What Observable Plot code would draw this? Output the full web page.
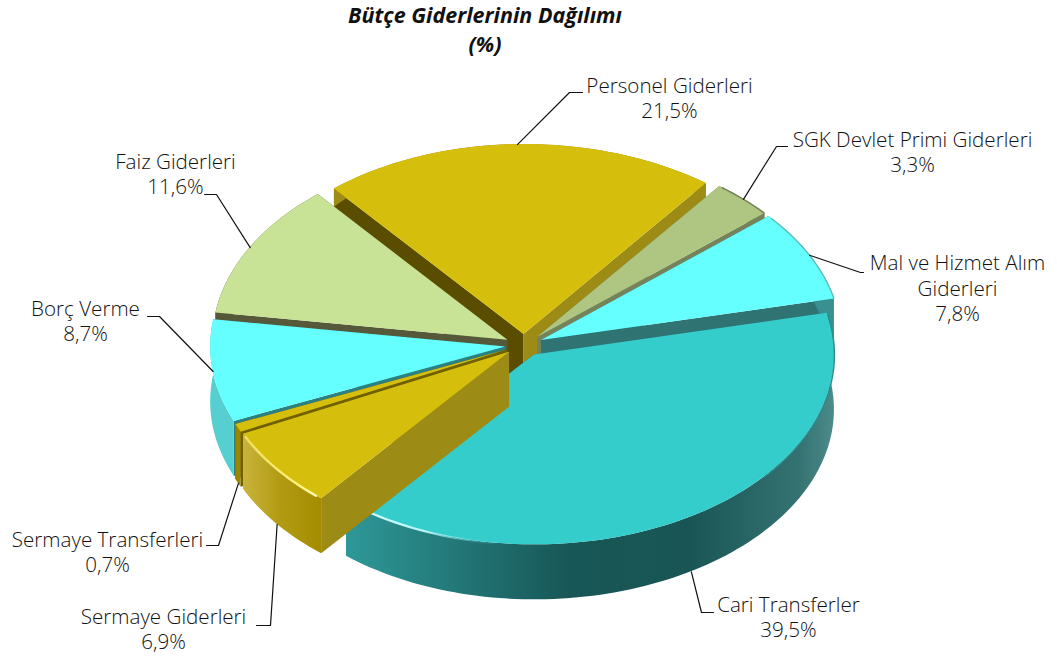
<!DOCTYPE html>
<html lang="tr">
<head>
<meta charset="utf-8">
<script src="https://cdn.jsdelivr.net/npm/d3@7"></script>
<script src="https://cdn.jsdelivr.net/npm/@observablehq/plot@0.6"></script>
<style>
html,body{margin:0;padding:0;background:#fff}
#title{height:58px;width:970px;text-align:center;font:italic 700 21.5px/29px "Open Sans",sans-serif;color:#111;box-sizing:border-box;padding-top:0}
#chart svg{display:block}
</style>
</head>
<body>
<div id="title">Bütçe Giderlerinin Dağılımı<br>(%)</div>
<div id="chart"></div>
<script>
// ---- data ----
const categories = ["Personel Giderleri","SGK Devlet Primi Giderleri","Mal ve Hizmet Alım\nGiderleri","Cari Transferler","Sermaye Giderleri","Sermaye Transferleri","Borç Verme","Faiz Giderleri"];
const shares = [21.5,3.3,7.8,39.5,6.9,0.7,8.7,11.6];

// ---- styles per slice ----
const topFill  = ["#D6BF0C","#AEC682","#66FFFF","#35CCCC","#D6BF0C","#D6BF0C","#66FFFF","#C8E296"];
const lowCut   = ["#5A4D00","#75835A","#2F7373","#2F7373","#9C8B14","#6F6000","#2C8080","#55593A"];
const highCut  = ["#9C8B14","#75835A","#2F7373","#2F7373","#9C8B14","#6F6000","#2C8080","#55593A"];
const wallFill = ["#9C8B14","#75835A","#3A9090","url(#cariWall)","url(#sgWall)","#9A8600","#55CFCF","#55593A"];
const paintOrder = [0,1,7,2,6,5,3,4];

// ---- tilted-pie layout ----
const startDeg = -40, cx = 524, cy = 345, rxRight = 300, rxLeft = 295, ry = 190, ex = 19, ey = 11;
const rad = d => d * Math.PI / 180;
const depth = v => v >= -0.2 ? 55 : Math.max(15, 55 - (-v - 0.2) * 65);
let acc = startDeg;
const slices = shares.map((s, i) => {
  const a0 = acc, a1 = acc + s * 3.6; acc = a1;
  const mid = (a0 + a1) / 2;
  return {i, a0, a1, mid, ox: cx + ex * Math.sin(rad(mid)), oy: cy - ey * Math.cos(rad(mid))};
});
const rim = (s, a, r = 1) => {
  const u = Math.sin(rad(a)) * r, v = -Math.cos(rad(a)) * r;
  return {x: s.ox + (u < 0 ? rxLeft : rxRight) * u, y: s.oy + ry * v, d: depth(v)};
};
const arcAngles = (a0, a1) => {
  const n = Math.max(2, Math.ceil((a1 - a0) / 1.5));
  return d3.range(n + 1).map(k => a0 + (a1 - a0) * k / n);
};
const ribbon = (rows, fill) => Plot.area(rows, {x1: "x1", y1: "y1", x2: "x2", y2: "y2", fill});
const lineOf = (rows, stroke, strokeWidth) => Plot.line(rows, {x: "x", y: "y", stroke, strokeWidth});

function sliceMarks(s) {
  const apex = rim(s, 0, 0);
  const cut = (a, fill) => {
    const p = rim(s, a);
    return ribbon([
      {x1: apex.x, y1: apex.y, x2: apex.x, y2: apex.y + apex.d},
      {x1: p.x, y1: p.y, x2: p.x, y2: p.y + p.d}
    ], fill);
  };
  const arc = arcAngles(s.a0, s.a1).map(a => rim(s, a));
  return [
    cut(s.a0, lowCut[s.i]),
    cut(s.a1, highCut[s.i]),
    ribbon(arc.map(p => ({x1: p.x, y1: p.y, x2: p.x, y2: p.y + p.d})), wallFill[s.i]),
    ribbon(arc.map(p => ({x1: p.x, y1: p.y, x2: apex.x, y2: apex.y})), topFill[s.i])
  ];
}

// rim glints and soft edges: [slice, from, to, stroke, width]
const edges = [
  [3, 186, 219, "url(#cariGlint)", 2.2],
  [3, 78, 130, "#2C8C8C", 1.4],
  [2, 50, 77, "#58BDBD", 1.4],
  [4, 221, 243.5, "url(#sgGlint)", 2.4],
  [1, 38, 49, "#75835A", 1.6]
];

// ---- labels ----
const labelX = [669, 912, 957, 788, 163, 107, 85, 175];
const labelY = [97, 151, 287, 616, 628, 551, 320, 173];
const elbow  = [[569,92,582],[776,146,787],[860,272,863],[701,612,713],[270,625,256],[218,545,206],[159,316,147],[216,194,204]];
const onBottomRim = [false,false,false,true,true,true,false,false];
const fmt = v => v.toFixed(1).replace(".", ",") + "%";
const labels = categories.map((c, i) => ({t: c + "\n" + fmt(shares[i]), x: labelX[i], y: labelY[i]}));
const leaders = slices.flatMap(s => {
  const p = rim(s, s.mid), e = elbow[s.i];
  return [
    {k: s.i, x: p.x, y: p.y + (onBottomRim[s.i] ? p.d : 0)},
    {k: s.i, x: e[0], y: e[1]},
    {k: s.i, x: e[2], y: e[1]}
  ];
});

const defs = () => {
  const d = d3.create("svg:defs");
  const grad = (id, stops) => {
    const g = d.append("linearGradient").attr("id", id).attr("x1", 0).attr("x2", 1).attr("y1", 0).attr("y2", 0);
    stops.forEach(([o, c, a]) => g.append("stop").attr("offset", o).attr("stop-color", c).attr("stop-opacity", a ?? 1));
  };
  grad("cariWall", [[0,"#2E9898"],[0.45,"#185757"],[0.7,"#195555"],[0.93,"#357272"],[1,"#4D8C8C"]]);
  grad("sgWall", [[0,"#C9B43C"],[0.45,"#B39C14"],[1,"#A48C00"]]);
  grad("cariGlint", [[0,"#E8FFFF",0.95],[0.5,"#C0FFFF",0.9],[1,"#35CCCC",0]]);
  grad("sgGlint", [[0,"#FFF27A",0.7],[0.7,"#FFF27A",1],[1,"#FFF9B0",1]]);
  return d.node();
};

const marks = [defs];
paintOrder.forEach(i => {
  const s = slices[i];
  marks.push(...sliceMarks(s));
  edges.filter(e => e[0] === i).forEach(e => {
    marks.push(lineOf(arcAngles(e[1], e[2]).map(a => rim(s, a)), e[3], e[4]));
  });
});
marks.push(Plot.line(leaders, {x: "x", y: "y", z: "k", stroke: "#111", strokeWidth: 1.2}));
marks.push(Plot.text(labels, {x: "x", y: "y", text: "t", fontSize: 20.6, fontWeight: 300, lineHeight: 1.24, fill: "#111", textAnchor: "middle"}));

document.getElementById("chart").append(Plot.plot({
  width: 1057, height: 600, margin: 0,
  x: {domain: [0, 1057], range: [0, 1057], axis: null},
  y: {domain: [58, 658], range: [0, 600], axis: null},
  style: {fontFamily: "'Open Sans', sans-serif", background: "transparent"},
  marks
}));
</script>
</body>
</html>
